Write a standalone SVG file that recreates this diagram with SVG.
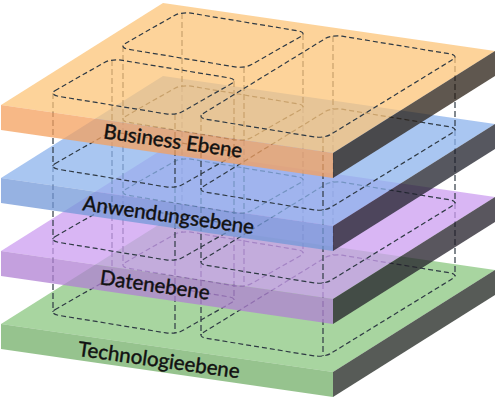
<svg xmlns="http://www.w3.org/2000/svg" width="496" height="400" viewBox="0 0 496 400">
<style>
.face{fill-opacity:0.75}
.o-top{fill:#FCC478}.o-front{fill:#F4A05E}.o-side{fill:#2a1f14}
.b-top{fill:#8CB3EC}.b-front{fill:#7398D8}.b-side{fill:#1d1f2a}
.p-top{fill:#CC9EF0}.p-front{fill:#B080D3}.p-side{fill:#221d28}
.g-top{fill:#8BC780}.g-front{fill:#73AF68}.g-side{fill:#1f241f}
.outline{fill:none;stroke:#2f3a44;stroke-width:1.2;stroke-dasharray:5 3}
.vert{fill:none;stroke:#2f3a44;stroke-width:1.2;stroke-dasharray:6 3}
.label{font-family:Lato,"Liberation Sans",sans-serif;font-size:20.5px;fill:#111;stroke:#111;stroke-width:0.45;text-anchor:middle}
</style>
<defs>
<polygon id="topface" points="1,105 163,3 495,51 333,153"/>
<polygon id="frontface" points="1,105 333,153 333,178 1,130"/>
<polygon id="sideface" points="333,153 495,51 495,76 333,178"/>
<g id="outlines">
<path d="M54.9,90.7 L104.5,62.4 C108.1,60.3 115.5,59.2 121,60.2 L228.6,77.8 C234.1,78.7 235.7,81.2 232.1,83.3 L182.5,111.6 C178.9,113.8 171.5,114.8 166,113.9 L58.4,96.3 C52.9,95.3 51.3,92.9 54.9,90.7 Z"/>
<path d="M124.9,43.7 L174.5,15.4 C178.1,13.3 185.5,12.2 191,13.2 L297.6,30.8 C303.1,31.7 304.7,34.2 301.1,36.3 L251.5,64.6 C247.9,66.8 240.5,67.8 235,66.9 L128.4,49.3 C122.9,48.3 121.3,45.9 124.9,43.7 Z"/>
<path d="M202.9,113.7 L325.5,38.4 C329.1,36.3 336.5,35.2 342,36.2 L449.6,53.8 C455.1,54.7 456.7,57.2 453.1,59.3 L330.5,134.6 C326.9,136.8 319.5,137.8 314,136.9 L206.4,119.3 C200.9,118.3 199.3,115.9 202.9,113.7 Z"/>
</g>
<path id="verts" d="M53,93.1v73M112,60.1v73M234,80.9v73M175,113.9v73M123,46.1v73M182,13.1v73M303,33.9v73M244,66.9v73M201,116.1v73M333,36.1v73M455,56.9v73M323,136.9v73"/>
</defs>

<g id="technologieebene">
<g transform="translate(0,219)">
<use href="#topface" class="face g-top"/>
<use href="#frontface" class="face g-front"/>
<use href="#sideface" class="face g-side"/>
<use href="#outlines" class="outline"/>
</g>
<text class="label" transform="translate(158,367) rotate(8)">Technologieebene</text>
</g>

<g id="connectors-3" class="vert"><use href="#verts" transform="translate(0,146)"/></g>

<g id="datenebene">
<g transform="translate(0,146)">
<use href="#topface" class="face p-top"/>
<use href="#frontface" class="face p-front"/>
<use href="#sideface" class="face p-side"/>
<use href="#outlines" class="outline"/>
</g>
<text class="label" transform="translate(154,292) rotate(8)">Datenebene</text>
</g>

<g id="connectors-2" class="vert"><use href="#verts" transform="translate(0,73)"/></g>

<g id="anwendungsebene">
<g transform="translate(0,73)">
<use href="#topface" class="face b-top"/>
<use href="#frontface" class="face b-front"/>
<use href="#sideface" class="face b-side"/>
<use href="#outlines" class="outline"/>
</g>
<text class="label" transform="translate(167.5,222) rotate(8)">Anwendungsebene</text>
</g>

<g id="connectors-1" class="vert"><use href="#verts"/></g>

<g id="business-ebene">
<use href="#topface" class="face o-top"/>
<use href="#frontface" class="face o-front"/>
<use href="#sideface" class="face o-side"/>
<use href="#outlines" class="outline"/>
<text class="label" transform="translate(172,148) rotate(8)">Business Ebene</text>
</g>
</svg>
